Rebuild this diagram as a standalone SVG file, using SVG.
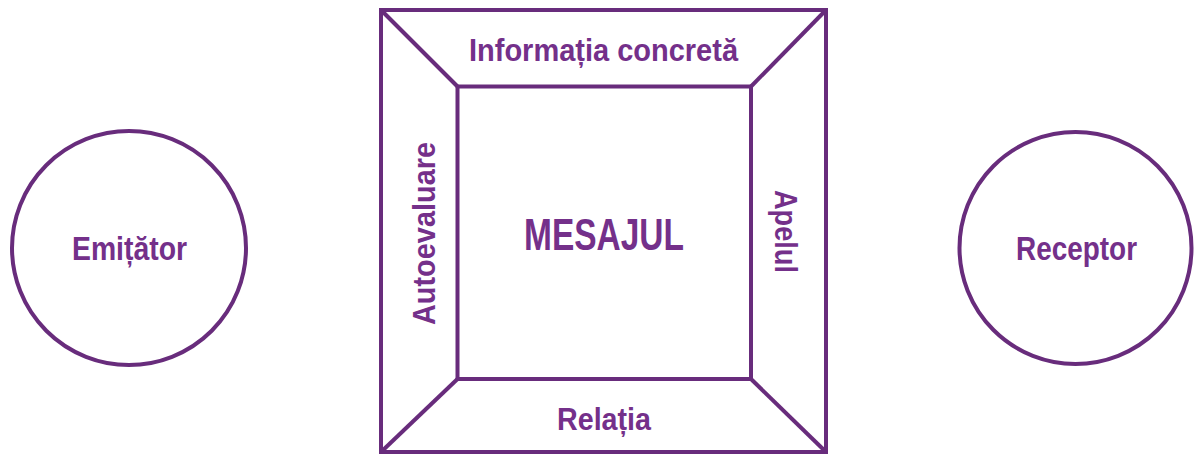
<svg xmlns="http://www.w3.org/2000/svg" width="1194" height="454" viewBox="0 0 1194 454">
<style>
.s{fill:none;stroke:#682c7c;stroke-width:4}
.t{font-family:"Liberation Sans",Arial,sans-serif;font-weight:bold;fill:#74308a;text-anchor:middle}
</style>
<rect width="1194" height="454" fill="#fff"/>
<g id="emitator">
<circle class="s" cx="129" cy="248" r="117"/>
<text class="t" x="129.5" y="260" font-size="33" textLength="115" lengthAdjust="spacingAndGlyphs">Emițător</text>
</g>
<g id="receptor">
<circle class="s" cx="1075.5" cy="248" r="116"/>
<text class="t" x="1076.5" y="260" font-size="33" textLength="121" lengthAdjust="spacingAndGlyphs">Receptor</text>
</g>
<g id="connectors">
<rect class="s" x="381" y="10" width="445" height="442"/>
<rect class="s" x="457.5" y="86.5" width="293.5" height="292.5"/>
<line class="s" x1="381" y1="10" x2="457.5" y2="86.5"/>
<line class="s" x1="826" y1="10" x2="751" y2="86.5"/>
<line class="s" x1="381" y1="452" x2="457.5" y2="379"/>
<line class="s" x1="826" y1="452" x2="751" y2="379"/>
</g>
<g id="mesajul">
<text class="t" x="604" y="250" font-size="44" textLength="160" lengthAdjust="spacingAndGlyphs">MESAJUL</text>
</g>
<g id="informatia">
<text class="t" x="603.5" y="61" font-size="32" textLength="269" lengthAdjust="spacingAndGlyphs">Informația concretă</text>
</g>
<g id="relatia">
<text class="t" x="604" y="430" font-size="32" textLength="94" lengthAdjust="spacingAndGlyphs">Relația</text>
</g>
<g id="autoevaluare">
<text class="t" transform="translate(435,233.5) rotate(-90)" x="0" y="0" font-size="32" textLength="183" lengthAdjust="spacingAndGlyphs">Autoevaluare</text>
</g>
<g id="apelul">
<text class="t" transform="translate(775,231.5) rotate(90)" x="0" y="0" font-size="32" textLength="83" lengthAdjust="spacingAndGlyphs">Apelul</text>
</g>
</svg>
